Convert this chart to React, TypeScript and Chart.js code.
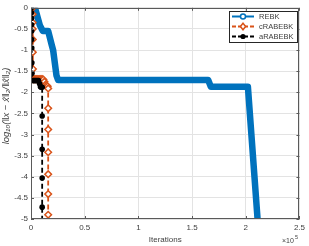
import { useEffect, useRef } from "react";
import { Chart, registerables } from "chart.js";

Chart.register(...registerables);

// REBK
const ITER_REBK = [3700, 8300, 11000, 16000, 19100, 20600, 23700, 25200, 165000, 167500, 202000, 211000];
const ERR_REBK = [0, -0.42, -0.55, -0.55, -0.86, -1.0, -1.6, -1.71, -1.71, -1.87, -1.87, -5];

// cRABEBK
const ITER_C = [1500, 1500, 1550, 1600, 1650, 1700, 1800, 2000, 2500, 3500, 4500, 5500, 6500, 7500, 8500, 9500, 10500, 11500, 12500, 13500, 14500, 15500, 16000, 16000, 16000, 16000, 16000, 16000, 16000];
const ERR_C = [0, -0.15, -0.35, -0.5, -0.75, -1.05, -1.45, -1.69, -1.69, -1.69, -1.69, -1.69, -1.69, -1.69, -1.69, -1.69, -1.69, -1.7, -1.75, -1.82, -1.84, -1.86, -1.91, -2.38, -2.88, -3.42, -3.94, -4.41, -4.9];

// aRABEBK
const ITER_A = [300, 400, 500, 500, 600, 600, 700, 800, 900, 1000, 2000, 3000, 4000, 5000, 6000, 7000, 8000, 8800, 9600, 10400, 10400, 10400, 10400, 10400, 10400];
const ERR_A = [0, -0.12, -0.25, -0.4, -0.55, -0.75, -0.95, -1.3, -1.55, -1.72, -1.72, -1.72, -1.72, -1.72, -1.72, -1.72, -1.8, -1.87, -1.88, -1.88, -2.56, -3.35, -4.03, -4.72, -5.4];

const LABELS = ["REBK", "cRABEBK", "aRABEBK"];
const X_TICKS = [0, 50000, 100000, 150000, 200000, 250000];
const Y_TICKS = [0, -0.5, -1, -1.5, -2, -2.5, -3, -3.5, -4, -4.5, -5];

const BLUE = "#0072BD";
const ORANGE = "#D95319";
const BLACK = "#000000";
const FONT = "'Liberation Sans', Arial, Helvetica, sans-serif";
const TXT = "#404040";

const toPts = (xs: number[], ys: number[]) => xs.map((x, i) => ({ x, y: ys[i] }));

const framePlugin = {
  id: "frame",
  afterDraw(chart: any) {
    const { ctx, chartArea } = chart;
    const { left, right, top, bottom } = chartArea;
    const xs = chart.scales.x;
    const ys = chart.scales.y;
    ctx.save();
    ctx.strokeStyle = "#5a5a5a";
    ctx.lineWidth = 1;
    ctx.strokeRect(Math.round(left) + 0.5, Math.round(top) + 0.5, Math.round(right - left) - 1, Math.round(bottom - top) - 1);
    ctx.beginPath();
    X_TICKS.forEach((v) => {
      const px = Math.round(xs.getPixelForValue(v)) + 0.5;
      ctx.moveTo(px, bottom);
      ctx.lineTo(px, bottom - 3);
      ctx.moveTo(px, top);
      ctx.lineTo(px, top + 3);
    });
    Y_TICKS.forEach((v) => {
      const py = Math.round(ys.getPixelForValue(v)) + 0.5;
      ctx.moveTo(left, py);
      ctx.lineTo(left + 3, py);
      ctx.moveTo(right, py);
      ctx.lineTo(right - 3, py);
    });
    ctx.stroke();

    // axis titles
    ctx.fillStyle = TXT;
    ctx.font = `8px ${FONT}`;
    ctx.textAlign = "center";
    ctx.textBaseline = "middle";
    ctx.fillText("Iterations", (left + right) / 2, 240);
    ctx.textAlign = "left";
    ctx.font = `7px ${FONT}`;
    ctx.fillText("×10", 282, 241);
    ctx.font = `5.5px ${FONT}`;
    ctx.fillText("5", 295, 237);

    ctx.save();
    ctx.translate(6, 106);
    ctx.rotate(-Math.PI / 2);
    ctx.textAlign = "center";
    ctx.font = `italic 9.5px ${FONT}`;
    ctx.fillText("log₁₀(‖x − x̂‖₂/‖x̂‖₂)", 0, 0);
    ctx.restore();

    // legend
    const lx = 229, ly = 11, lw = 68, lh = 31;
    ctx.fillStyle = "#ffffff";
    ctx.fillRect(lx, ly, lw, lh);
    ctx.strokeStyle = "#262626";
    ctx.lineWidth = 1;
    ctx.strokeRect(lx + 0.5, ly + 0.5, lw, lh);
    const rows = [ly + 5.5, ly + 15.5, ly + 25.5];
    const colors = [BLUE, ORANGE, BLACK];
    rows.forEach((ry, i) => {
      ctx.strokeStyle = colors[i];
      ctx.lineWidth = 2;
      ctx.setLineDash(i === 0 ? [] : [4, 2]);
      ctx.beginPath();
      ctx.moveTo(lx + 3, ry);
      ctx.lineTo(lx + 25, ry);
      ctx.stroke();
      ctx.setLineDash([]);
      const mx = lx + 14;
      ctx.lineWidth = 1.5;
      if (i === 0) {
        ctx.fillStyle = "#fff";
        ctx.beginPath();
        ctx.arc(mx, ry, 2.5, 0, Math.PI * 2);
        ctx.fill();
        ctx.stroke();
      } else if (i === 1) {
        ctx.fillStyle = "#fff";
        ctx.beginPath();
        ctx.moveTo(mx, ry - 3.2);
        ctx.lineTo(mx + 2.6, ry);
        ctx.lineTo(mx, ry + 3.2);
        ctx.lineTo(mx - 2.6, ry);
        ctx.closePath();
        ctx.fill();
        ctx.stroke();
      } else {
        ctx.fillStyle = BLACK;
        ctx.beginPath();
        ctx.arc(mx, ry, 2.6, 0, Math.PI * 2);
        ctx.fill();
      }
      ctx.fillStyle = TXT;
      ctx.font = `7.5px ${FONT}`;
      ctx.textAlign = "left";
      ctx.textBaseline = "middle";
      ctx.fillText(LABELS[i], lx + 30, ry + 0.5);
    });
    ctx.restore();
  },
};

export default function App() {
  const ref = useRef<HTMLCanvasElement | null>(null);
  useEffect(() => {
    if (!ref.current) return;
    const chart = new Chart(ref.current, {
      type: "line",
      data: {
        datasets: [
          {
            label: LABELS[0],
            data: toPts(ITER_REBK, ERR_REBK),
            borderColor: BLUE,
            backgroundColor: BLUE,
            borderWidth: 6.5,
            borderCapStyle: "round",
            borderJoinStyle: "round",
            pointRadius: 0,
            order: 2,
          },
          {
            label: LABELS[1],
            data: toPts(ITER_C, ERR_C),
            borderColor: ORANGE,
            backgroundColor: "#ffffff",
            borderWidth: 1.8,
            borderDash: [5, 3],
            pointStyle: "rectRot",
            pointRadius: 3.3,
            pointBorderWidth: 1.5,
            pointBorderColor: ORANGE,
            pointBackgroundColor: "#ffffff",
            order: 1,
          },
          {
            label: LABELS[2],
            data: toPts(ITER_A, ERR_A),
            borderColor: BLACK,
            backgroundColor: BLACK,
            borderWidth: 1.8,
            borderDash: [5, 3],
            pointStyle: "circle",
            pointRadius: 2.8,
            pointBorderWidth: 0,
            pointBackgroundColor: BLACK,
            order: 0,
          },
        ],
      },
      options: {
        animation: false,
        responsive: false,
        maintainAspectRatio: false,
        parsing: false as any,
        layout: { padding: { top: 5, right: 7, left: 0, bottom: 0 } },
        plugins: { legend: { display: false }, tooltip: { enabled: false } },
        scales: {
          x: {
            type: "linear",
            min: 0,
            max: 250000,
            afterBuildTicks: (s: any) => {
              s.ticks = X_TICKS.map((v) => ({ value: v }));
            },
            afterFit: (s: any) => {
              s.height = 27;
            },
            ticks: {
              callback: (v: any) => String(Number(v) / 1e5),
              font: { size: 8, family: FONT },
              color: TXT,
              padding: 4,
              maxRotation: 0,
            },
            grid: { color: "#e3e3e3", drawTicks: false },
            border: { display: false },
          },
          y: {
            type: "linear",
            min: -5,
            max: 0,
            afterBuildTicks: (s: any) => {
              s.ticks = Y_TICKS.map((v) => ({ value: v }));
            },
            afterFit: (s: any) => {
              s.width = 31;
            },
            ticks: {
              callback: (v: any) => String(v),
              font: { size: 8, family: FONT },
              color: TXT,
              padding: 3,
            },
            grid: { color: "#e3e3e3", drawTicks: false },
            border: { display: false },
          },
        },
      },
      plugins: [framePlugin],
    } as any);
    return () => chart.destroy();
  }, []);
  return (
    <div style={{ position: "absolute", left: 0, top: 0, width: 309, height: 246, background: "#fff" }}>
      <canvas ref={ref} width={309} height={246} style={{ display: "block" }} />
    </div>
  );
}
